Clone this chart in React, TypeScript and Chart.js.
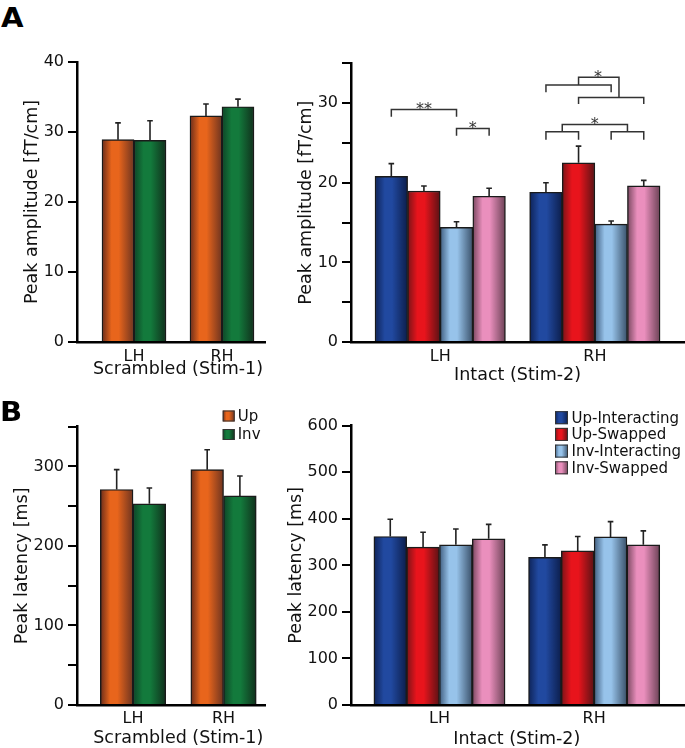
import React, { useEffect, useRef } from 'react';
import { Chart, registerables } from 'chart.js';

Chart.register(...registerables);

const FONT = '"DejaVu Sans", Verdana, sans-serif';

// ---------- data ----------
const hemispheres = ['LH', 'RH'];

// Panel A, scrambled (Stim-1): peak amplitude [fT/cm]
const ampScrUp = [28.9, 32.3];
const ampScrUpErr = [2.4, 1.7];
const ampScrInv = [28.8, 33.6];
const ampScrInvErr = [2.8, 1.1];

// Panel A, intact (Stim-2): peak amplitude [fT/cm]
const ampUpInteract = [20.8, 18.8];
const ampUpInteractErr = [1.6, 1.2];
const ampUpSwap = [18.95, 22.5];
const ampUpSwapErr = [0.65, 2.1];
const ampInvInteract = [14.4, 14.8];
const ampInvInteractErr = [0.7, 0.4];
const ampInvSwap = [18.3, 19.6];
const ampInvSwapErr = [1.0, 0.7];

// Panel B, scrambled (Stim-1): peak latency [ms]
const latScrUp = [271, 296];
const latScrUpErr = [25, 25];
const latScrInv = [253, 263];
const latScrInvErr = [20, 25];

// Panel B, intact (Stim-2): peak latency [ms]
const latUpInteract = [362, 317];
const latUpInteractErr = [37, 27];
const latUpSwap = [339, 331];
const latUpSwapErr = [32, 31];
const latInvInteract = [344, 361];
const latInvInteractErr = [34, 33];
const latInvSwap = [357, 344];
const latInvSwapErr = [31, 30];

// significance brackets (panel A, intact): [bar slot within group, value]
const ampBrackets: { group: number; path: [number, number][] }[] = [
  { group: 0, path: [[0, 28.3], [0, 29.2], [2, 29.2], [2, 28.3]] },
  { group: 0, path: [[2, 25.9], [2, 26.8], [3, 26.8], [3, 25.9]] },
  { group: 1, path: [[0, 25.4], [0, 26.4], [1, 26.4], [1, 25.4]] },
  { group: 1, path: [[2, 25.4], [2, 26.4], [3, 26.4], [3, 25.4]] },
  { group: 1, path: [[0.5, 26.4], [0.5, 27.3], [2.5, 27.3], [2.5, 26.4]] },
  { group: 1, path: [[0, 31.35], [0, 32.27], [2, 32.27], [2, 31.35]] },
  { group: 1, path: [[1, 29.88], [1, 30.72], [3, 30.72], [3, 29.88]] },
  { group: 1, path: [[1, 32.27], [1, 33.24], [2.24, 33.24], [2.24, 30.72]] },
];
const ampStars = [
  { group: 0, slot: 1, value: 29.87, text: '**' },
  { group: 0, slot: 2.5, value: 27.44, text: '*' },
  { group: 1, slot: 1.5, value: 27.9, text: '*' },
  { group: 1, slot: 1.6, value: 33.87, text: '*' },
];

// ---------- colours (left edge, body, right edge) ----------
type Tri = [string, string, string];
const ORANGE: Tri = ['#6a2c1a', '#e8651c', '#6e3420'];
const GREEN: Tri = ['#0e4527', '#137a3c', '#10301c'];
const BLUE: Tri = ['#0e2358', '#2149a0', '#0c1e4c'];
const RED: Tri = ['#7a1418', '#e8141c', '#5a1215'];
const LBLUE: Tri = ['#405e80', '#97c3ea', '#3a516a'];
const PINK: Tri = ['#7a4860', '#ea8fbd', '#6c4256'];

interface Series { label: string; values: number[]; errors: number[]; colors: Tri }
interface Legend { x: number; y: number; rowH: number; sw: number; sh: number; gap: number }
interface PanelSpec {
  left: number; top: number; width: number; height: number;
  area: { l: number; t: number; r: number; b: number };
  xMin: number; xMax: number; bar: number;
  yMax: number; yStep: number; yLabelEvery: number;
  series: Series[];
  yTitle: string; yTitleX: number;
  xTitle: string; xTitleBaseline: number; catBaseline: number;
  legend?: Legend;
  brackets?: { group: number; path: [number, number][] }[];
  stars?: { group: number; slot: number; value: number; text: string }[];
}

function shade(ctx: CanvasRenderingContext2D, x0: number, w: number, c: Tri) {
  const g = ctx.createLinearGradient(x0, 0, x0 + w, 0);
  g.addColorStop(0, c[0]);
  g.addColorStop(0.3, c[1]);
  g.addColorStop(0.52, c[1]);
  g.addColorStop(1, c[2]);
  return g;
}

function slotX(chart: any, spec: PanelSpec, group: number, slot: number) {
  const n = spec.series.length;
  return chart.scales.x.getPixelForValue(group) + (slot - (n - 1) / 2) * spec.bar;
}

function makePlugin(spec: PanelSpec) {
  const ox = spec.left;
  const oy = spec.top;
  return {
    id: 'panelExtras',
    afterDatasetsDraw(chart: any) {
      const ctx: CanvasRenderingContext2D = chart.ctx;
      const ys = chart.scales.y;
      ctx.save();
      ctx.strokeStyle = '#222';
      ctx.lineWidth = 1.6;
      spec.series.forEach((s, si) => {
        const meta = chart.getDatasetMeta(si);
        meta.data.forEach((el: any, i: number) => {
          const top = ys.getPixelForValue(s.values[i] + s.errors[i]);
          ctx.beginPath();
          ctx.moveTo(el.x, el.y);
          ctx.lineTo(el.x, top);
          ctx.moveTo(el.x - 2.8, top);
          ctx.lineTo(el.x + 2.8, top);
          ctx.stroke();
        });
      });
      ctx.restore();
    },
    afterDraw(chart: any) {
      const ctx: CanvasRenderingContext2D = chart.ctx;
      const xs = chart.scales.x;
      const ys = chart.scales.y;
      const area = chart.chartArea;
      ctx.save();
      ctx.fillStyle = '#111';
      if (spec.brackets) {
        ctx.strokeStyle = '#333';
        ctx.lineWidth = 1.5;
        spec.brackets.forEach((b) => {
          ctx.beginPath();
          b.path.forEach(([slot, v], k) => {
            const px = slotX(chart, spec, b.group, slot);
            const py = ys.getPixelForValue(v);
            if (k === 0) ctx.moveTo(px, py);
            else ctx.lineTo(px, py);
          });
          ctx.stroke();
        });
      }
      if (spec.stars) {
        ctx.font = `16px ${FONT}`;
        ctx.textAlign = 'center';
        ctx.textBaseline = 'alphabetic';
        ctx.fillStyle = '#333';
        spec.stars.forEach((s) => {
          const px = slotX(chart, spec, s.group, s.slot);
          const py = ys.getPixelForValue(s.value);
          ctx.fillText(s.text, px, py + 0.59 * 16);
        });
      }
      ctx.fillStyle = '#111';
      ctx.font = `16px ${FONT}`;
      ctx.textAlign = 'center';
      ctx.textBaseline = 'alphabetic';
      hemispheres.forEach((h, i) => {
        ctx.fillText(h, xs.getPixelForValue(i), spec.catBaseline - oy);
      });
      ctx.font = `17.5px ${FONT}`;
      ctx.fillText(spec.xTitle, xs.getPixelForValue(0.5), spec.xTitleBaseline - oy);
      ctx.save();
      ctx.translate(spec.yTitleX - ox, (area.top + area.bottom) / 2);
      ctx.rotate(-Math.PI / 2);
      ctx.textBaseline = 'middle';
      ctx.fillText(spec.yTitle, 0, 0);
      ctx.restore();
      if (spec.legend) {
        const L = spec.legend;
        ctx.font = `15px ${FONT}`;
        ctx.textAlign = 'left';
        ctx.textBaseline = 'middle';
        spec.series.forEach((s, i) => {
          const cy = L.y - oy + i * L.rowH;
          const x0 = L.x - ox;
          ctx.fillStyle = shade(ctx, x0, L.sw, s.colors);
          ctx.fillRect(x0, cy - L.sh / 2, L.sw, L.sh);
          ctx.strokeStyle = '#333';
          ctx.lineWidth = 1;
          ctx.strokeRect(x0 + 0.5, cy - L.sh / 2 + 0.5, L.sw - 1, L.sh - 1);
          ctx.fillStyle = '#111';
          ctx.fillText(s.label, x0 + L.sw + L.gap, cy + 1);
        });
      }
      ctx.restore();
    },
  };
}

function buildConfig(spec: PanelSpec): any {
  const n = spec.series.length;
  const yW = spec.area.l - spec.left;
  const xH = spec.top + spec.height - spec.area.b;
  return {
    type: 'bar',
    data: {
      datasets: spec.series.map((s) => ({
        label: s.label,
        data: s.values.map((v, i) => ({ x: i, y: v })),
        backgroundColor: (c: any) => {
          const xs = c.chart.scales && c.chart.scales.x;
          if (!xs || c.dataIndex === undefined || c.datasetIndex === undefined) return s.colors[1];
          const center = xs.getPixelForValue(c.dataIndex) + (c.datasetIndex - (n - 1) / 2) * spec.bar;
          if (!Number.isFinite(center)) return s.colors[1];
          return shade(c.chart.ctx, center - spec.bar / 2, spec.bar, s.colors);
        },
        borderColor: '#1a1a1a',
        borderWidth: 1.4,
        borderSkipped: 'bottom',
        barThickness: spec.bar,
      })),
    },
    options: {
      responsive: false,
      animation: false,
      devicePixelRatio: 1,
      events: [],
      layout: {
        padding: {
          left: 0,
          top: spec.area.t - spec.top,
          right: spec.left + spec.width - spec.area.r,
          bottom: 0,
        },
      },
      plugins: { legend: { display: false }, tooltip: { enabled: false }, title: { display: false } },
      scales: {
        x: {
          type: 'linear',
          min: spec.xMin,
          max: spec.xMax,
          offset: false,
          grid: { display: false, drawTicks: false, offset: false },
          border: { display: true, color: '#000', width: 2.5, z: 1 },
          ticks: { display: false },
          afterFit: (s: any) => { s.height = xH; },
        },
        y: {
          type: 'linear',
          min: 0,
          max: spec.yMax,
          grid: { display: true, drawOnChartArea: false, drawTicks: true, tickLength: 9, color: '#000', lineWidth: 2 },
          border: { display: true, color: '#000', width: 2.5, z: 1 },
          ticks: {
            stepSize: spec.yStep,
            autoSkip: false,
            padding: 4,
            color: '#111',
            font: { family: FONT, size: 16 },
            callback: (v: number) => (v % spec.yLabelEvery === 0 ? String(v) : ''),
          },
          afterFit: (s: any) => { s.width = yW; },
        },
      },
    },
    plugins: [makePlugin(spec)],
  };
}

const panels: PanelSpec[] = [
  {
    left: 0, top: 40, width: 290, height: 345,
    area: { l: 77, t: 62, r: 265, b: 342 },
    xMin: -0.648, xMax: 1.489, bar: 32,
    yMax: 40, yStep: 10, yLabelEvery: 10,
    series: [
      { label: 'Up', values: ampScrUp, errors: ampScrUpErr, colors: ORANGE },
      { label: 'Inv', values: ampScrInv, errors: ampScrInvErr, colors: GREEN },
    ],
    yTitle: 'Peak amplitude [fT/cm]', yTitleX: 32,
    xTitle: 'Scrambled (Stim-1)', xTitleBaseline: 373.5, catBaseline: 361,
  },
  {
    left: 285, top: 40, width: 400, height: 345,
    area: { l: 351, t: 63.3, r: 685, b: 342 },
    xMin: -0.577, xMax: 1.583, bar: 32.6,
    yMax: 35, yStep: 5, yLabelEvery: 10,
    series: [
      { label: 'Up-Interacting', values: ampUpInteract, errors: ampUpInteractErr, colors: BLUE },
      { label: 'Up-Swapped', values: ampUpSwap, errors: ampUpSwapErr, colors: RED },
      { label: 'Inv-Interacting', values: ampInvInteract, errors: ampInvInteractErr, colors: LBLUE },
      { label: 'Inv-Swapped', values: ampInvSwap, errors: ampInvSwapErr, colors: PINK },
    ],
    yTitle: 'Peak amplitude [fT/cm]', yTitleX: 306,
    xTitle: 'Intact (Stim-2)', xTitleBaseline: 379.5, catBaseline: 361,
    brackets: ampBrackets, stars: ampStars,
  },
  {
    left: 0, top: 400, width: 290, height: 348,
    area: { l: 77, t: 426.7, r: 265, b: 705 },
    xMin: -0.619, xMax: 1.458, bar: 32.7,
    yMax: 350, yStep: 50, yLabelEvery: 100,
    series: [
      { label: 'Up', values: latScrUp, errors: latScrUpErr, colors: ORANGE },
      { label: 'Inv', values: latScrInv, errors: latScrInvErr, colors: GREEN },
    ],
    yTitle: 'Peak latency [ms]', yTitleX: 22,
    xTitle: 'Scrambled (Stim-1)', xTitleBaseline: 742.5, catBaseline: 723.4,
    legend: { x: 222.7, y: 416, rowH: 18.5, sw: 12, sh: 11, gap: 3 },
  },
  {
    left: 285, top: 400, width: 400, height: 348,
    area: { l: 351, t: 425.7, r: 684, b: 705 },
    xMin: -0.572, xMax: 1.581, bar: 32.8,
    yMax: 600, yStep: 100, yLabelEvery: 100,
    series: [
      { label: 'Up-Interacting', values: latUpInteract, errors: latUpInteractErr, colors: BLUE },
      { label: 'Up-Swapped', values: latUpSwap, errors: latUpSwapErr, colors: RED },
      { label: 'Inv-Interacting', values: latInvInteract, errors: latInvInteractErr, colors: LBLUE },
      { label: 'Inv-Swapped', values: latInvSwap, errors: latInvSwapErr, colors: PINK },
    ],
    yTitle: 'Peak latency [ms]', yTitleX: 296,
    xTitle: 'Intact (Stim-2)', xTitleBaseline: 744, catBaseline: 723.4,
    legend: { x: 555, y: 417.7, rowH: 16.7, sw: 13, sh: 13, gap: 3.5 },
  },
];

function Panel({ spec }: { spec: PanelSpec }) {
  const ref = useRef<HTMLCanvasElement | null>(null);
  useEffect(() => {
    if (!ref.current) return;
    const chart = new Chart(ref.current, buildConfig(spec));
    return () => chart.destroy();
  }, [spec]);
  return (
    <canvas
      ref={ref}
      width={spec.width}
      height={spec.height}
      style={{ position: 'absolute', left: spec.left, top: spec.top, width: spec.width, height: spec.height }}
    />
  );
}

const letterStyle: React.CSSProperties = {
  position: 'absolute',
  fontFamily: FONT,
  fontWeight: 'bold',
  fontSize: 26,
  lineHeight: '26px',
  color: '#000',
  margin: 0,
  transform: 'scaleX(1.12)',
  transformOrigin: '0 0',
};

export default function App() {
  return (
    <div style={{ position: 'absolute', left: 0, top: 0, width: 685, height: 748, background: '#fff', overflow: 'hidden' }}>
      {panels.map((p, i) => (
        <Panel key={i} spec={p} />
      ))}
      <div style={{ ...letterStyle, left: 1, top: 5 }}>A</div>
      <div style={{ ...letterStyle, left: 0, top: 398.5 }}>B</div>
    </div>
  );
}
